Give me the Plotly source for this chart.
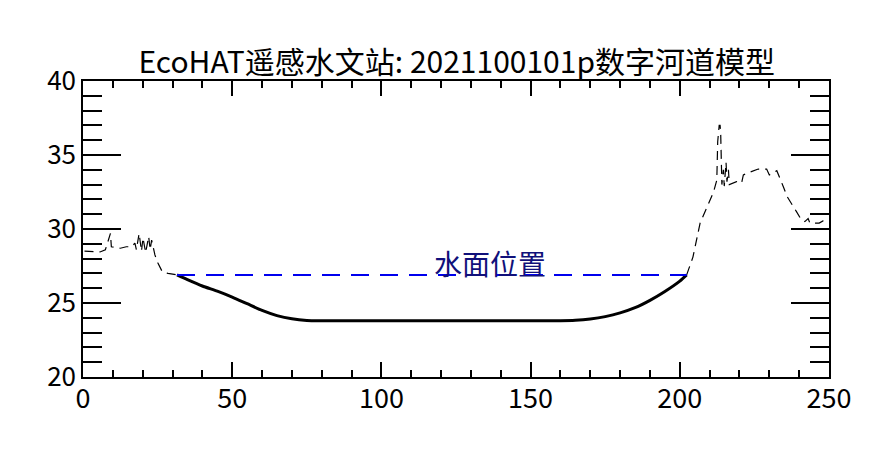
import plotly.graph_objects as go

# Left bank (above water), dashed thin
left_x = [0.5, 5.7, 7.5, 9.2, 9.5, 12.5, 14.5, 16.3, 17.4, 17.9, 18.8, 19.6, 20.1,
          21.0, 22.0, 22.5, 23.0, 24.1, 25.1, 26.6, 28.5, 31.5]
left_y = [28.5, 28.45, 28.6, 29.7, 28.8, 28.7, 28.8, 28.8, 29.05, 28.6, 29.7, 28.5, 29.4,
          28.4, 29.5, 28.6, 29.25, 28.25, 27.7, 27.1, 27.0, 26.9]

# Channel bed (under water), thick solid
bed_x = [31.5, 35, 40, 45, 50, 55, 60, 65, 70, 75, 80, 90, 100, 110, 120, 130, 140, 150,
         160, 165, 170, 175, 180, 185, 190, 195, 200, 202.3]
bed_y = [26.9, 26.58, 26.15, 25.8, 25.4, 24.95, 24.5, 24.15, 23.93, 23.82, 23.8, 23.8, 23.8,
         23.8, 23.8, 23.8, 23.8, 23.8, 23.8, 23.83, 23.92, 24.08, 24.33, 24.68, 25.18,
         25.78, 26.48, 26.9]

# Right bank (above water), dashed thin
right_x = [202.3, 204.4, 206.8, 209.0, 211.3, 212.4, 212.5, 212.7, 213.2, 213.5, 213.7,
           213.9, 214.1, 214.6, 214.9, 215.5, 215.8, 216.3, 216.6, 219.0, 220.7, 221.3,
           222.4, 226.3, 229.1, 230.0, 232.5, 234.7, 236.0, 239.1, 240.8, 241.9, 243.0,
           243.6, 246.7, 248.0, 250.0]
right_y = [26.9, 28.1, 30.4, 31.4, 32.5, 33.3, 34.5, 35.9, 37.0, 37.0, 36.5,
           35.3, 33.0, 34.0, 32.9, 34.5, 33.2, 34.0, 33.0, 33.2, 33.1, 33.65,
           33.76, 34.05, 34.05, 33.65, 33.94, 32.86, 32.18, 31.17, 30.6, 30.5, 30.7,
           30.4, 30.4, 30.55, 30.55]

# Water surface
water_x = [31.5, 202.3]
water_y = [26.9, 26.9]
water_label = "水面位置"
water_label_x = 136.4

title_text = "EcoHAT遥感水文站: 2021100101p数字河道模型"
x_ticks = [0, 50, 100, 150, 200, 250]
y_ticks = [20, 25, 30, 35, 40]

FONT = "Noto Sans CJK SC"

fig = go.Figure()
fig.add_trace(go.Scatter(x=left_x, y=left_y, mode="lines",
                         line=dict(color="black", width=1.2, dash="9px,6px")))
fig.add_trace(go.Scatter(x=right_x, y=right_y, mode="lines",
                         line=dict(color="black", width=1.2, dash="9px,6px")))
fig.add_trace(go.Scatter(x=bed_x, y=bed_y, mode="lines",
                         line=dict(color="black", width=3, shape="spline", smoothing=0.6)))
fig.add_trace(go.Scatter(x=water_x, y=water_y, mode="lines",
                         line=dict(color="#0000ee", width=2, dash="18px,11px")))

fig.add_annotation(x=water_label_x, y=water_y[0], text=water_label, showarrow=False,
                   yanchor="bottom", yshift=-10,
                   font=dict(family=FONT, size=28, color="#10107a"))

fig.update_layout(
    width=880, height=471,
    margin=dict(l=75, r=59, t=73, b=102),
    paper_bgcolor="white", plot_bgcolor="white",
    showlegend=False,
    title=dict(text=title_text, xref="paper", x=0.501, xanchor="center",
               yref="container", y=0.885, yanchor="middle",
               font=dict(family=FONT, size=30, color="black")),
    font=dict(family=FONT, color="black"),
)
fig.update_xaxes(range=[0, 250], tickvals=x_ticks, ticktext=[str(v) for v in x_ticks],
                 ticks="inside", ticklen=15, tickwidth=1.5, tickcolor="black",
                 minor=dict(dtick=10, ticks="inside", ticklen=7, tickwidth=1.5,
                            tickcolor="black", showgrid=False),
                 showline=True, linecolor="black", linewidth=1.5, mirror="ticks",
                 showgrid=False, zeroline=False, ticklabelstandoff=-3,
                 tickfont=dict(family=FONT, size=27, color="black"))
fig.update_yaxes(range=[20, 40], tickvals=y_ticks, ticktext=[str(v) for v in y_ticks],
                 ticks="inside", ticklen=38, tickwidth=1.5, tickcolor="black",
                 minor=dict(dtick=1, ticks="inside", ticklen=19, tickwidth=1.5,
                            tickcolor="black", showgrid=False),
                 showline=True, linecolor="black", linewidth=1.5, mirror="ticks",
                 showgrid=False, zeroline=False,
                 tickfont=dict(family=FONT, size=26, color="black"))

fig.write_html("out.html")
